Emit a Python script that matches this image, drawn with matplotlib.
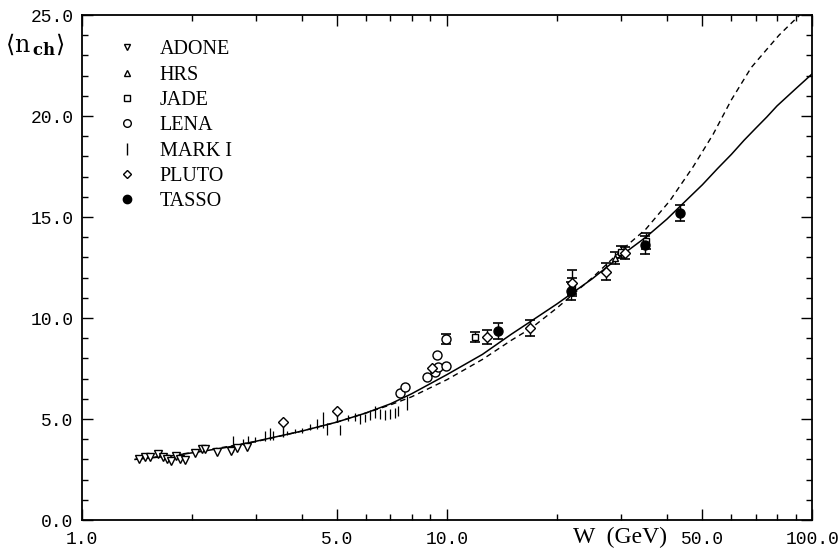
import numpy as np
import matplotlib.pyplot as plt
from matplotlib.lines import Line2D
from matplotlib.ticker import FixedLocator, MultipleLocator, NullFormatter

plt.rcParams['mathtext.fontset'] = 'dejavuserif'

# fit curves (W in GeV, <n_ch>)
fit_w = [1.4, 1.75, 2.1, 2.5, 3.0, 4.0, 5.0, 6.0, 7.0, 8.0, 10.0, 12.5, 15.0, 17.0,
         20.0, 25.0, 30.0, 35.0, 40.0, 45.0, 50.0, 55.0, 60.0, 65.0, 70.0, 75.0, 80.0,
         90.0, 100.0]
fit_n = [3.0, 3.17, 3.38, 3.6, 3.9, 4.4, 4.85, 5.3, 5.75, 6.25, 7.2, 8.2, 9.2, 9.85,
         10.7, 11.95, 13.1, 14.0, 14.9, 15.8, 16.6, 17.4, 18.1, 18.8, 19.4, 19.95, 20.5,
         21.35, 22.1]
dash_w = [1.4, 2.0, 3.0, 4.0, 5.0, 6.0, 7.0, 8.0, 10.0, 12.5, 15.0, 17.0, 20.0, 25.0,
          30.0, 35.0, 40.7, 47.2, 53.5, 60.0, 68.0, 75.0, 81.0, 87.0, 92.3, 100.0]
dash_n = [3.0, 3.33, 3.88, 4.4, 4.85, 5.3, 5.7, 6.1, 6.95, 7.95, 8.9, 9.5, 10.5, 12.0,
          13.35, 14.4, 15.8, 17.5, 19.1, 20.8, 22.4, 23.3, 24.0, 24.55, 25.0, 25.6]

# ADONE
adone_w = [1.44, 1.49, 1.54, 1.62, 1.67, 1.71, 1.76, 1.81, 1.86, 1.92, 2.04, 2.13,
           2.18, 2.34, 2.57, 2.66, 2.83]
adone_n = [3.0, 3.1, 3.13, 3.27, 3.1, 3.0, 2.92, 3.17, 3.03, 2.97, 3.33, 3.5,
           3.5, 3.38, 3.43, 3.55, 3.63]

# HRS
hrs_w = [28.9]
hrs_n = [12.95]
hrs_e = [0.3]

# JADE
jade_w = [11.95, 22.0, 30.0, 35.0]
jade_n = [9.04, 11.6, 13.25, 13.8]
jade_e = [0.25, 0.4, 0.3, 0.4]

# LENA
lena_w = [7.45, 7.67, 8.79, 9.26, 9.4, 9.45, 9.93, 9.96]
lena_n = [6.27, 6.6, 7.1, 7.34, 8.17, 7.6, 7.62, 8.95]
lena_e = [0, 0, 0, 0, 0, 0, 0, 0.25]

# MARK I
mark_w = [2.60, 2.77, 2.86, 2.98, 3.18, 3.28, 3.34, 3.65, 3.84, 4.00, 4.21, 4.41, 4.57,
          4.69, 5.11, 5.37, 5.61, 5.78, 5.97, 6.17, 6.36, 6.56, 6.77, 6.98, 7.20, 7.35, 7.76]
mark_n = [3.78, 3.85, 3.95, 4.00, 4.15, 4.25, 4.20, 4.30, 4.40, 4.45, 4.60, 4.75, 4.95,
          4.50, 4.45, 5.05, 5.10, 5.00, 5.05, 5.20, 5.35, 5.25, 5.20, 5.25, 5.30, 5.40, 5.80]
mark_e = [0.40, 0.15, 0.20, 0.12, 0.25, 0.30, 0.22, 0.10, 0.10, 0.12, 0.15, 0.25, 0.40,
          0.30, 0.25, 0.15, 0.20, 0.25, 0.20, 0.25, 0.30, 0.25, 0.25, 0.25, 0.25, 0.25, 0.35]

# PLUTO (lower, upper errors)
pluto_w = [3.56, 4.99, 9.12, 12.9, 16.9, 22.0, 27.3, 30.6]
pluto_n = [4.87, 5.41, 7.55, 9.04, 9.49, 11.75, 12.3, 13.2]
pluto_lo = [0.75, 0.55, 0, 0.35, 0.4, 0.65, 0.4, 0.3]
pluto_hi = [0, 0, 0, 0.35, 0.4, 0.65, 0.4, 0.3]

# TASSO
tasso_w = [13.8, 21.8, 34.8, 43.3]
tasso_n = [9.37, 11.35, 13.6, 15.18]
tasso_e = [0.4, 0.45, 0.45, 0.4]

fig = plt.figure(figsize=(8.38, 5.5), dpi=100)
ax = fig.add_axes([0.0974, 0.0545, 0.8721, 0.9182])
ax.set_xscale('log')
ax.set_xlim(1, 100)
ax.set_ylim(0, 25)

ax.plot(fit_w, fit_n, color='k', lw=1.1, zorder=2)
ax.plot(dash_w, dash_n, color='k', lw=1.0, ls=(0, (4, 3)), zorder=2)


def points(w, n, marker, ms, filled=False, lo=None, hi=None, caps=True):
    w = np.asarray(w, dtype=float)
    n = np.asarray(n, dtype=float)
    if lo is not None:
        lo = np.asarray(lo, dtype=float)
        hi = lo if hi is None else np.asarray(hi, dtype=float)
        m = (lo + hi) > 0
        ax.errorbar(w[m], n[m], yerr=[lo[m], hi[m]], fmt='none', ecolor='k',
                    elinewidth=1.0, capsize=3.5 if caps else 0, capthick=1.2, zorder=3)
    ax.plot(w, n, ls='none', marker=marker, ms=ms, mec='k', mew=1.0,
            mfc='k' if filled else 'white', zorder=4)


points(adone_w, adone_n, 'v', 5.5)
points(hrs_w, hrs_n, '^', 5.0, lo=hrs_e)
points(jade_w, jade_n, 's', 4.5, lo=jade_e)
points(lena_w, lena_n, 'o', 6.5, lo=lena_e)
ax.errorbar(mark_w, mark_n, yerr=mark_e, fmt='none', ecolor='k', elinewidth=0.9, zorder=3)
pw = np.asarray(pluto_w)
pn = np.asarray(pluto_n)
lo = np.asarray(pluto_lo)
hi = np.asarray(pluto_hi)
stem = (hi == 0) & (lo > 0)
capped = hi > 0
ax.errorbar(pw[stem], pn[stem], yerr=[lo[stem], hi[stem]], fmt='none', ecolor='k',
            elinewidth=1.0, capsize=0, zorder=3)
ax.errorbar(pw[capped], pn[capped], yerr=[lo[capped], hi[capped]], fmt='none',
            ecolor='k', elinewidth=1.0, capsize=3.5, capthick=1.2, zorder=3)
ax.plot(pluto_w, pluto_n, ls='none', marker='D', ms=5, mec='k', mew=1.0, mfc='white', zorder=4)
points(tasso_w, tasso_n, 'o', 6.5, filled=True, lo=tasso_e)

# legend
names = ['ADONE', 'HRS', 'JADE', 'LENA', 'MARK I', 'PLUTO', 'TASSO']
handles = [
    Line2D([], [], ls='none', marker='v', ms=5, mec='k', mfc='white'),
    Line2D([], [], ls='none', marker='^', ms=5, mec='k', mfc='white'),
    Line2D([], [], ls='none', marker='s', ms=4.5, mec='k', mfc='white'),
    Line2D([], [], ls='none', marker='o', ms=5.5, mec='k', mfc='white'),
    Line2D([], [], ls='none', marker='|', ms=8, mec='k', mew=1.0),
    Line2D([], [], ls='none', marker='D', ms=4.5, mec='k', mfc='white'),
    Line2D([], [], ls='none', marker='o', ms=6, mec='k', mfc='k'),
]
ax.legend(handles, names, loc='upper left', bbox_to_anchor=(0.035, 0.97), frameon=False,
          prop={'family': 'Liberation Serif', 'size': 14.5}, handlelength=1.0,
          handletextpad=1.1, labelspacing=0.31, borderpad=0)

# ticks
ax.xaxis.set_major_locator(FixedLocator([1, 5, 10, 50, 100]))
ax.xaxis.set_minor_locator(FixedLocator([2, 3, 4, 6, 7, 8, 9, 20, 30, 40, 60, 70, 80, 90]))
ax.xaxis.set_minor_formatter(NullFormatter())
ax.set_xticklabels(['1.0', '5.0', '10.0', '50.0', '100.0'])
ax.yaxis.set_major_locator(MultipleLocator(5))
ax.yaxis.set_minor_locator(MultipleLocator(1))
ax.set_yticks([0, 5, 10, 15, 20, 25])
ax.set_yticklabels(['0.0', '5.0', '10.0', '15.0', '20.0', '25.0'])
ax.tick_params(which='both', direction='in', top=True, right=True, width=1.0)
ax.tick_params(which='major', length=8, pad=6)
ax.tick_params(axis='x', which='major', pad=8)
ax.tick_params(which='minor', length=4)
for lab in ax.get_xticklabels() + ax.get_yticklabels():
    lab.set_fontfamily('Liberation Mono')
    lab.set_fontsize(13)
for s in ax.spines.values():
    s.set_linewidth(1.3)

fig.text(5 / 838, 1 - 45 / 550, r'$\langle\mathrm{n}_{\,\mathbf{ch}}\rangle$', fontsize=17,
         ha='left', va='center')
fig.text(620 / 838, 1 - 537 / 550, 'W  (GeV)', fontsize=17, family='Liberation Serif',
         ha='center', va='center')

fig.savefig('out.png', dpi=100)
